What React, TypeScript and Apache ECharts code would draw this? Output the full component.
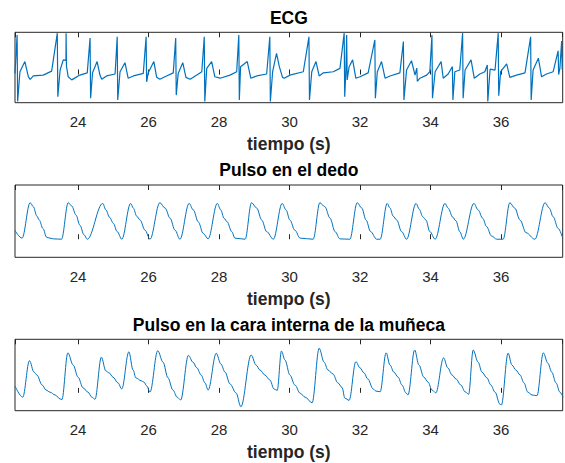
import React, { useEffect, useRef } from "react";
import * as echarts from "echarts";

// Time axis (s)
const X_MIN = 22.21;
const X_MAX = 37.75;

const titles = ["ECG", "Pulso en el dedo", "Pulso en la cara interna de la muñeca"];
const xAxisTitle = "tiempo (s)";

// ECG [t (s), amplitude]
const ecgData: number[][] = [
  [22.21, 0.04], [22.27, 1.4], [22.285, -0.96], [22.35, 0.1], [22.49, 0.46], [22.59, -0.08], [22.64, -0.17], [22.73, -0.05], [23.01, -0.02], [23.25, 0.12],
  [23.41, 1.47], [23.425, -0.79], [23.49, 0.16], [23.58, 0.52], [23.655, 0.5], [23.66, 1.47], [23.67, 0.3], [23.72, -0.08], [23.82, -0.19], [24.05, -0.02], [24.26, 0.06],
  [24.34, 1.3], [24.355, -0.84], [24.41, 0.06], [24.54, 0.46], [24.62, -0.02], [24.67, -0.17], [24.81, -0.05], [25.05, 0.02],
  [25.11, 1.34], [25.125, -0.9], [25.19, 0.1], [25.33, 0.42], [25.42, -0.13], [25.57, -0.05], [25.85, 0.04],
  [25.93, 1.34], [25.945, -0.26], [25.99, 0.06], [26.15, 0.46], [26.23, -0.1], [26.32, -0.17], [26.51, -0.05], [26.7, 0.06],
  [26.77, 1.3], [26.785, -0.73], [26.84, 0.04], [26.97, 0.42], [27.06, -0.1], [27.18, -0.17], [27.37, -0.02], [27.51, 0.1],
  [27.58, 1.34], [27.595, -0.96], [27.65, 0.22], [27.79, 0.46], [27.88, -0.08], [28.03, -0.13], [28.31, -0.02], [28.5, 0.1],
  [28.56, 1.4], [28.575, -0.9], [28.61, 0.28], [28.8, 0.46], [28.9, -0.13], [29.07, -0.05], [29.35, 0.02],
  [29.44, 1.34], [29.455, -0.96], [29.52, 0.1], [29.63, 0.75], [29.71, 0.28], [29.8, -0.1], [29.85, -0.13], [30.01, -0.02], [30.39, 0.1],
  [30.55, 1.34], [30.565, -0.9], [30.63, 0.1], [30.75, 0.46], [30.84, -0.05], [30.96, 0.06], [31.24, 0.1], [31.43, 0.22],
  [31.55, 1.47], [31.565, -0.79], [31.6, 0.2], [31.62, 1.4], [31.635, -0.19], [31.69, 0.28], [31.79, 0.52], [31.88, -0.13], [32.0, -0.08], [32.23, 0.06],
  [32.42, 1.23], [32.435, -0.84], [32.49, 0.1], [32.61, 0.46], [32.71, -0.13], [32.85, -0.05], [33.13, 0.06],
  [33.23, 1.17], [33.245, -0.9], [33.32, 0.16], [33.46, 0.49], [33.56, -0.02], [33.61, 0.23], [33.625, -0.24], [33.7, -0.13], [33.89, -0.02], [33.98, 0.1],
  [34.04, 1.4], [34.055, -0.84], [34.13, 0.1], [34.3, 0.46], [34.36, -0.13], [34.5, 0.02], [34.62, 0.28], [34.635, -0.9], [34.69, 0.1], [34.83, 0.16],
  [34.91, 1.47], [34.925, -0.84], [34.98, 0.16], [35.15, 0.52], [35.24, -0.13], [35.4, 0.02], [35.54, 0.1], [35.61, 0.34], [35.625, -0.96], [35.69, 0.19], [35.83, 0.16],
  [35.92, 1.47], [35.935, -0.75], [35.99, 0.1], [36.16, 0.38], [36.25, -0.1], [36.44, -0.02], [36.68, 0.06],
  [36.84, 1.34], [36.855, -0.9], [36.91, 0.16], [37.06, 0.58], [37.15, -0.08], [37.29, 0.02], [37.48, 0.1],
  [37.62, 0.84], [37.635, 0.0], [37.67, 0.22], [37.72, 1.19], [37.735, 0.2], [37.75, 0.16],
];

// Finger pulse [t (s), normalized amplitude]
const fingerData: number[][] = [
  [22.21, 0.24], [22.41, 0.03], [22.64, 1.01], [22.73, 0.9], [22.83, 0.64], [22.9, 0.53], [23.0, 0.3], [23.11, 0.05], [23.3, 0.01], [23.53, 0.0],
  [23.72, 1.01], [23.82, 0.92], [23.94, 0.67], [24.05, 0.39], [24.17, 0.12], [24.26, 0.0],
  [24.7, 0.99], [24.79, 0.81], [24.89, 0.61], [25.0, 0.44], [25.11, 0.21], [25.24, 0.0],
  [25.49, 0.99], [25.57, 0.86], [25.66, 0.64], [25.76, 0.53], [25.9, 0.25], [26.04, 0.0],
  [26.32, 1.01], [26.47, 0.86], [26.61, 0.58], [26.75, 0.25], [26.89, 0.0],
  [27.15, 0.99], [27.27, 0.81], [27.41, 0.48], [27.55, 0.16], [27.69, 0.01],
  [27.95, 0.99], [28.05, 0.81], [28.14, 0.58], [28.23, 0.48], [28.36, 0.21], [28.45, 0.03], [28.74, 0.0],
  [28.92, 1.01], [29.07, 0.86], [29.21, 0.53], [29.35, 0.21], [29.54, 0.0],
  [29.79, 0.99], [29.9, 0.81], [30.01, 0.53], [30.15, 0.25], [30.3, 0.03], [30.67, 0.0],
  [30.86, 1.01], [31.0, 0.9], [31.15, 0.58], [31.29, 0.21], [31.43, 0.01], [31.71, 0.0],
  [31.92, 1.01], [32.05, 0.86], [32.17, 0.53], [32.3, 0.21], [32.47, 0.0], [32.57, 0.0],
  [32.77, 0.99], [32.85, 0.86], [32.94, 0.64], [33.04, 0.53], [33.18, 0.21], [33.32, 0.0],
  [33.59, 0.99], [33.68, 0.83], [33.78, 0.62], [33.87, 0.53], [33.98, 0.21], [34.13, 0.0],
  [34.41, 0.99], [34.5, 0.86], [34.63, 0.61], [34.72, 0.51], [34.83, 0.21], [34.93, 0.0],
  [35.23, 0.99], [35.35, 0.81], [35.48, 0.58], [35.59, 0.35], [35.73, 0.09], [35.88, 0.0], [36.06, 0.0],
  [36.25, 1.01], [36.39, 0.86], [36.54, 0.53], [36.71, 0.18], [36.96, 0.0],
  [37.25, 1.01], [37.37, 0.86], [37.48, 0.62], [37.62, 0.3], [37.75, 0.03],
];

// Wrist pulse [t (s), normalized amplitude]
const wristData: number[][] = [
  [22.21, 0.19], [22.43, -0.12], [22.62, 0.9], [22.75, 0.58], [22.83, 0.5], [22.98, 0.22], [23.09, 0.08], [23.2, 0.02], [23.35, -0.06], [23.49, -0.17], [23.54, -0.19],
  [23.71, 1.12], [23.86, 0.78], [24.0, 0.44], [24.14, 0.14], [24.28, 0.02], [24.39, -0.12], [24.48, -0.18],
  [24.66, 1.0], [24.79, 0.61], [24.88, 0.56], [24.99, 0.44], [25.13, 0.28], [25.24, 0.11],
  [25.44, 1.15], [25.56, 0.64], [25.64, 0.42], [25.79, 0.34], [25.87, 0.3], [25.95, 0.19], [26.04, 0.02],
  [26.26, 1.18], [26.41, 0.86], [26.55, 0.42], [26.69, 0.08], [26.81, -0.12], [26.91, -0.2],
  [27.13, 1.05], [27.26, 0.86], [27.37, 0.7], [27.49, 0.5], [27.6, 0.28], [27.69, 0.08],
  [27.92, 1.11], [28.05, 0.81], [28.17, 0.58], [28.31, 0.25], [28.48, 0.0], [28.62, -0.39],
  [28.91, 1.06], [29.05, 0.78], [29.16, 0.64], [29.3, 0.5], [29.44, 0.36], [29.56, 0.11], [29.65, 0.07],
  [29.77, 1.17], [29.87, 0.92], [30.01, 0.5], [30.15, 0.22], [30.3, -0.01], [30.44, -0.12], [30.64, -0.28],
  [30.84, 1.25], [30.98, 0.86], [31.09, 0.64], [31.23, 0.53], [31.37, 0.28], [31.49, 0.15], [31.57, -0.15], [31.69, -0.21],
  [31.88, 0.87], [32.0, 0.7], [32.11, 0.56], [32.22, 0.39], [32.37, 0.11], [32.45, 0.05], [32.57, 0.03],
  [32.74, 1.12], [32.85, 0.78], [32.96, 0.58], [33.08, 0.44], [33.19, 0.22], [33.3, 0.0], [33.36, -0.06],
  [33.55, 1.2], [33.67, 0.78], [33.81, 0.44], [33.93, 0.3], [34.04, 0.08], [34.15, 0.0],
  [34.37, 0.98], [34.49, 0.7], [34.61, 0.5], [34.72, 0.39], [34.86, 0.22], [34.98, 0.03], [35.08, -0.04],
  [35.21, 1.2], [35.35, 0.86], [35.46, 0.58], [35.6, 0.42], [35.71, 0.22], [35.83, 0.02], [35.97, -0.32], [36.01, -0.34],
  [36.2, 1.11], [36.31, 0.78], [36.42, 0.64], [36.54, 0.5], [36.65, 0.28], [36.76, 0.02], [36.88, -0.06], [37.02, -0.08],
  [37.2, 1.12], [37.33, 0.83], [37.44, 0.58], [37.56, 0.28], [37.67, 0.02], [37.76, -0.12],
];

const yRanges = [
  [-1.0, 1.5],
  [-0.5, 1.5],
  [-0.5, 1.5],
];

const FONT = 'Arial, "Liberation Sans", Helvetica, sans-serif';
const AX = "#262626";
const LINE = "#0072BD";

export default function App() {
  const ref = useRef<HTMLDivElement>(null);

  useEffect(() => {
    if (!ref.current) return;
    const chart = echarts.init(ref.current, undefined, { renderer: "svg" });

    const grids = [
      { left: 15, right: 2.3, top: 32.3, height: 70.4 },
      { left: 15, right: 2.3, top: 185, height: 72.3 },
      { left: 15, right: 2.3, top: 339.3, height: 71.4 },
    ].map((g) => ({ ...g, show: true, borderColor: AX, borderWidth: 1, backgroundColor: "transparent" }));

    const titleCenters = [17.5, 170.3, 324.6];
    const datasets = [ecgData, fingerData, wristData];

    const xAxes: any[] = [];
    const yAxes: any[] = [];
    const series: any[] = [];
    for (let i = 0; i < 3; i++) {
      xAxes.push({
        type: "value",
        gridIndex: i,
        position: "bottom",
        min: X_MIN,
        max: X_MAX,
        splitNumber: 8,
        axisLine: { show: false },
        axisTick: { show: true, inside: true, length: 5, lineStyle: { color: AX, width: 1 } },
        axisLabel: {
          show: true,
          showMinLabel: false,
          showMaxLabel: false,
          margin: 11.5,
          color: AX,
          fontSize: 15,
          fontFamily: FONT,
        },
        splitLine: { show: false },
        name: xAxisTitle,
        nameLocation: "middle",
        nameGap: 41.4,
        nameTextStyle: { color: AX, fontSize: 17.5, fontWeight: "bold", fontFamily: FONT, verticalAlign: "middle" },
      });
      xAxes.push({
        type: "value",
        gridIndex: i,
        position: "top",
        min: X_MIN,
        max: X_MAX,
        splitNumber: 8,
        axisLine: { show: false },
        axisTick: { show: true, inside: true, length: 5, lineStyle: { color: AX, width: 1 } },
        axisLabel: { show: false },
        splitLine: { show: false },
      });
      yAxes.push({
        type: "value",
        gridIndex: i,
        min: yRanges[i][0],
        max: yRanges[i][1],
        axisLine: { show: false },
        axisTick: { show: false },
        axisLabel: { show: false },
        splitLine: { show: false },
      });
      series.push({
        type: "line",
        xAxisIndex: i * 2,
        yAxisIndex: i,
        data: datasets[i],
        showSymbol: false,
        symbol: "none",
        smooth: i === 0 ? false : 0.35,
        smoothMonotone: i === 0 ? undefined : "x",
        lineStyle: { color: LINE, width: i === 0 ? 1.2 : 1 },
        clip: true,
      });
    }

    chart.setOption({
      animation: false,
      backgroundColor: "#ffffff",
      grid: grids,
      xAxis: xAxes,
      yAxis: yAxes,
      series,
      graphic: titles.map((t, i) => ({
        type: "text",
        x: 288.9,
        y: titleCenters[i],
        style: {
          text: t,
          fill: "#000000",
          fontSize: 17.5,
          fontWeight: "bold",
          fontFamily: FONT,
          align: "center",
          verticalAlign: "middle",
        },
      })),
    });

    return () => chart.dispose();
  }, []);

  return (
    <div
      ref={ref}
      style={{ position: "fixed", left: 0, top: 0, width: 565, height: 463, background: "#fff" }}
    />
  );
}
